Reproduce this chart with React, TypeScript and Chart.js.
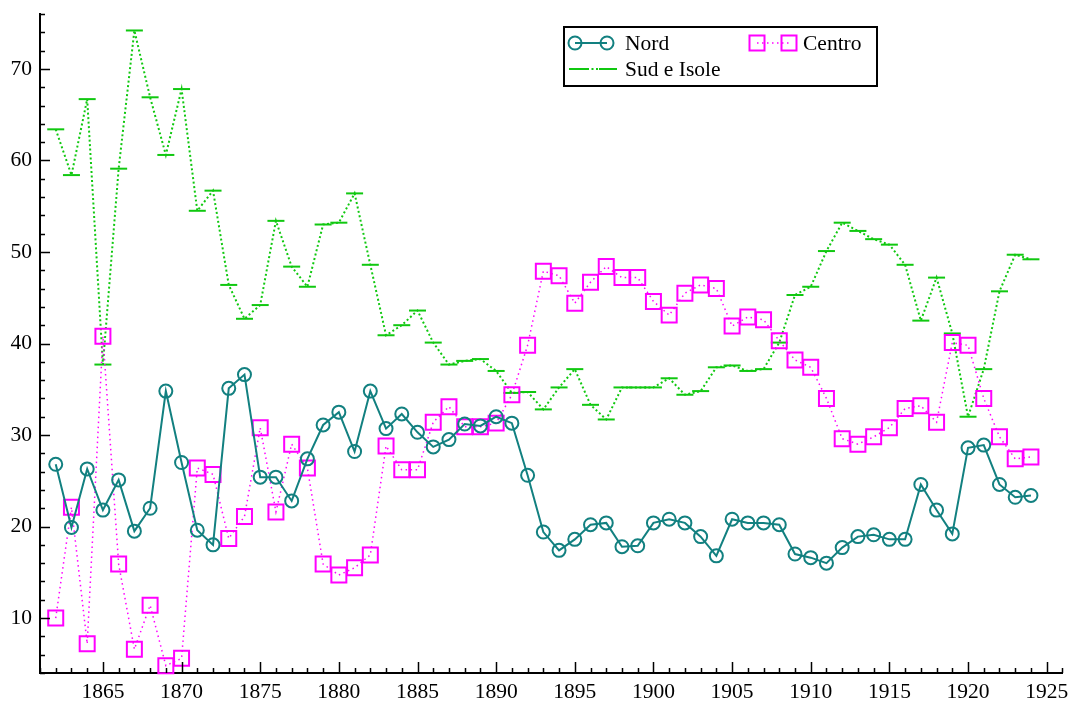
import React, { useEffect, useRef } from 'react';
import { Chart, registerables } from 'chart.js';

Chart.register(...registerables);

const years = [
  1862, 1863, 1864, 1865, 1866, 1867, 1868, 1869, 1870, 1871,
  1872, 1873, 1874, 1875, 1876, 1877, 1878, 1879, 1880, 1881,
  1882, 1883, 1884, 1885, 1886, 1887, 1888, 1889, 1890, 1891,
  1892, 1893, 1894, 1895, 1896, 1897, 1898, 1899, 1900, 1901,
  1902, 1903, 1904, 1905, 1906, 1907, 1908, 1909, 1910, 1911,
  1912, 1913, 1914, 1915, 1916, 1917, 1918, 1919, 1920, 1921,
  1922, 1923, 1924,
];

const nord = [
  26.8, 19.9, 26.3, 21.8, 25.1, 19.5, 22.0, 34.8, 27.0, 19.6,
  18.0, 35.1, 36.6, 25.4, 25.4, 22.8, 27.4, 31.1, 32.5, 28.2,
  34.8, 30.7, 32.3, 30.3, 28.7, 29.5, 31.2, 31.0, 32.0, 31.3,
  25.6, 19.4, 17.4, 18.6, 20.2, 20.4, 17.8, 17.9, 20.4, 20.8,
  20.4, 18.9, 16.8, 20.8, 20.4, 20.4, 20.2, 17.0, 16.6, 16.0,
  17.7, 18.9, 19.1, 18.6, 18.6, 24.6, 21.8, 19.2, 28.6, 28.9,
  24.6, 23.2, 23.4,
];

const centro = [
  10.0, 22.1, 7.2, 40.8, 15.9, 6.6, 11.4, 4.8, 5.6, 26.4,
  25.7, 18.7, 21.1, 30.8, 21.6, 29.0, 26.4, 15.9, 14.7, 15.5,
  16.9, 28.8, 26.2, 26.2, 31.4, 33.1, 30.9, 30.9, 31.3, 34.4,
  39.8, 47.9, 47.4, 44.4, 46.7, 48.4, 47.2, 47.2, 44.6, 43.1,
  45.5, 46.4, 46.0, 41.9, 42.9, 42.6, 40.3, 38.2, 37.4, 34.0,
  29.6, 29.0, 29.8, 30.8, 32.9, 33.2, 31.4, 40.1, 39.8, 34.0,
  29.8, 27.4, 27.6,
];

const sudIsole = [
  63.4, 58.4, 66.7, 37.7, 59.1, 74.2, 66.9, 60.6, 67.8, 54.5,
  56.7, 46.4, 42.7, 44.2, 53.4, 48.4, 46.2, 53.0, 53.2, 56.4,
  48.6, 40.9, 42.0, 43.6, 40.1, 37.7, 38.1, 38.3, 37.0, 34.6,
  34.7, 32.8, 35.2, 37.2, 33.3, 31.7, 35.2, 35.2, 35.2, 36.2,
  34.4, 34.8, 37.4, 37.6, 37.0, 37.2, 40.1, 45.3, 46.2, 50.1,
  53.2, 52.3, 51.4, 50.8, 48.6, 42.5, 47.2, 41.1, 32.0, 37.2,
  45.7, 49.7, 49.2,
];

const xTickLabels = [1865, 1870, 1875, 1880, 1885, 1890, 1895, 1900, 1905, 1910, 1915, 1920, 1925];
const yTickLabels = [10, 20, 30, 40, 50, 60, 70];

const TEAL = '#128080';
const MAGENTA = '#ff00ff';
const GREEN = '#10c810';
const FONT = '"Liberation Serif", "Times New Roman", serif';

const toPoints = (vals: number[]) => vals.map((v, i) => ({ x: years[i], y: v }));

const axisTicksPlugin = {
  id: 'inwardTicks',
  afterDraw(chart: any) {
    const { ctx, chartArea, scales } = chart;
    const xs = scales.x;
    const ys = scales.y;
    ctx.save();
    ctx.strokeStyle = '#000';
    ctx.lineWidth = 1.5;
    ctx.beginPath();
    for (let yr = Math.ceil(xs.min); yr <= xs.max; yr++) {
      const px = Math.round(xs.getPixelForValue(yr)) + 0.5;
      const len = yr % 5 === 0 ? 11 : 5;
      ctx.moveTo(px, chartArea.bottom);
      ctx.lineTo(px, chartArea.bottom - len);
    }
    for (let v = Math.ceil(ys.min / 2) * 2; v <= ys.max; v += 2) {
      const py = Math.round(ys.getPixelForValue(v)) + 0.5;
      const len = v % 10 === 0 ? 10 : 5;
      ctx.moveTo(chartArea.left, py);
      ctx.lineTo(chartArea.left + len, py);
    }
    ctx.stroke();
    ctx.restore();
  },
};

const legendPlugin = {
  id: 'customLegend',
  afterDraw(chart: any) {
    const ctx = chart.ctx;
    ctx.save();
    ctx.fillStyle = '#fff';
    ctx.fillRect(564, 27, 313, 59);
    ctx.strokeStyle = '#000';
    ctx.lineWidth = 2;
    ctx.strokeRect(564, 27, 313, 59);

    const r1 = 43;
    const r2 = 69;
    // Nord sample
    ctx.strokeStyle = TEAL;
    ctx.lineWidth = 2;
    ctx.beginPath();
    ctx.moveTo(575, r1);
    ctx.lineTo(607, r1);
    ctx.stroke();
    for (const cx of [575, 607]) {
      ctx.beginPath();
      ctx.arc(cx, r1, 6.5, 0, Math.PI * 2);
      ctx.stroke();
    }
    // Centro sample
    ctx.strokeStyle = MAGENTA;
    ctx.lineWidth = 1.5;
    ctx.setLineDash([1.5, 3.5]);
    ctx.beginPath();
    ctx.moveTo(757, r1);
    ctx.lineTo(789, r1);
    ctx.stroke();
    ctx.setLineDash([]);
    ctx.lineWidth = 2;
    for (const cx of [757, 789]) {
      ctx.strokeRect(cx - 7.5, r1 - 7.5, 15, 15);
    }
    // Sud sample
    ctx.strokeStyle = GREEN;
    ctx.lineWidth = 2;
    ctx.setLineDash([2, 2.5]);
    ctx.beginPath();
    ctx.moveTo(578, r2);
    ctx.lineTo(608, r2);
    ctx.stroke();
    ctx.setLineDash([]);
    ctx.beginPath();
    ctx.moveTo(569, r2);
    ctx.lineTo(587, r2);
    ctx.moveTo(599, r2);
    ctx.lineTo(617, r2);
    ctx.stroke();

    ctx.fillStyle = '#000';
    ctx.font = `21.5px ${FONT}`;
    ctx.textBaseline = 'middle';
    ctx.textAlign = 'left';
    ctx.fillText('Nord', 625, r1 + 1);
    ctx.fillText('Centro', 803, r1 + 1);
    ctx.fillText('Sud e Isole', 625, r2 + 1);
    ctx.restore();
  },
};

export default function App() {
  const canvasRef = useRef<HTMLCanvasElement | null>(null);

  useEffect(() => {
    document.body.style.margin = '0';
    const canvas = canvasRef.current;
    if (!canvas) return;
    const chart = new Chart(canvas, {
      type: 'line',
      data: {
        datasets: [
          {
            label: 'Nord',
            data: toPoints(nord),
            borderColor: TEAL,
            borderWidth: 2,
            pointStyle: 'circle',
            pointRadius: 6.5,
            pointBorderWidth: 2,
            pointBorderColor: TEAL,
            pointBackgroundColor: 'rgba(0,0,0,0)',
            tension: 0,
            fill: false,
            clip: false,
          },
          {
            label: 'Centro',
            data: toPoints(centro),
            borderColor: MAGENTA,
            borderWidth: 1.5,
            borderDash: [1.5, 3.5],
            pointStyle: 'rect',
            pointRadius: 10.6,
            pointBorderWidth: 2,
            pointBorderColor: MAGENTA,
            pointBackgroundColor: 'rgba(0,0,0,0)',
            tension: 0,
            fill: false,
            clip: false,
          },
          {
            label: 'Sud e Isole',
            data: toPoints(sudIsole),
            borderColor: GREEN,
            borderWidth: 2,
            borderDash: [2, 2.5],
            pointStyle: 'line',
            pointRadius: 8.5,
            pointBorderWidth: 2,
            pointBorderColor: GREEN,
            pointBackgroundColor: GREEN,
            tension: 0,
            fill: false,
            clip: false,
          },
        ],
      },
      options: {
        animation: false,
        responsive: true,
        maintainAspectRatio: false,
        layout: { padding: { left: 0, right: 10, top: 14, bottom: 0 } },
        plugins: {
          legend: { display: false },
          tooltip: { enabled: false },
          title: { display: false },
        },
        scales: {
          x: {
            type: 'linear',
            min: 1861,
            max: 1926,
            grid: { display: false, drawTicks: false },
            border: { display: true, color: '#000', width: 2 },
            ticks: {
              color: '#000',
              font: { family: FONT, size: 21.5 },
              padding: 6,
              maxRotation: 0,
              callback: (v: any) => String(v),
            },
            afterBuildTicks: (scale: any) => {
              scale.ticks = xTickLabels.map((v) => ({ value: v }));
            },
            afterFit: (scale: any) => {
              scale.height = 31;
              scale.paddingLeft = 0;
              scale.paddingRight = 0;
            },
          },
          y: {
            type: 'linear',
            min: 4,
            max: 76,
            grid: { display: false, drawTicks: false },
            border: { display: true, color: '#000', width: 2 },
            ticks: {
              color: '#000',
              font: { family: FONT, size: 21.5 },
              padding: 8,
              callback: (v: any) => String(v),
            },
            afterBuildTicks: (scale: any) => {
              scale.ticks = yTickLabels.map((v) => ({ value: v }));
            },
            afterFit: (scale: any) => {
              scale.width = 40;
              scale.paddingTop = 0;
              scale.paddingBottom = 0;
            },
          },
        },
      },
      plugins: [axisTicksPlugin, legendPlugin],
    });
    return () => chart.destroy();
  }, []);

  return (
    <div style={{ position: 'absolute', left: 0, top: 0, width: 1075, height: 704, background: '#fff' }}>
      <canvas ref={canvasRef} />
    </div>
  );
}
